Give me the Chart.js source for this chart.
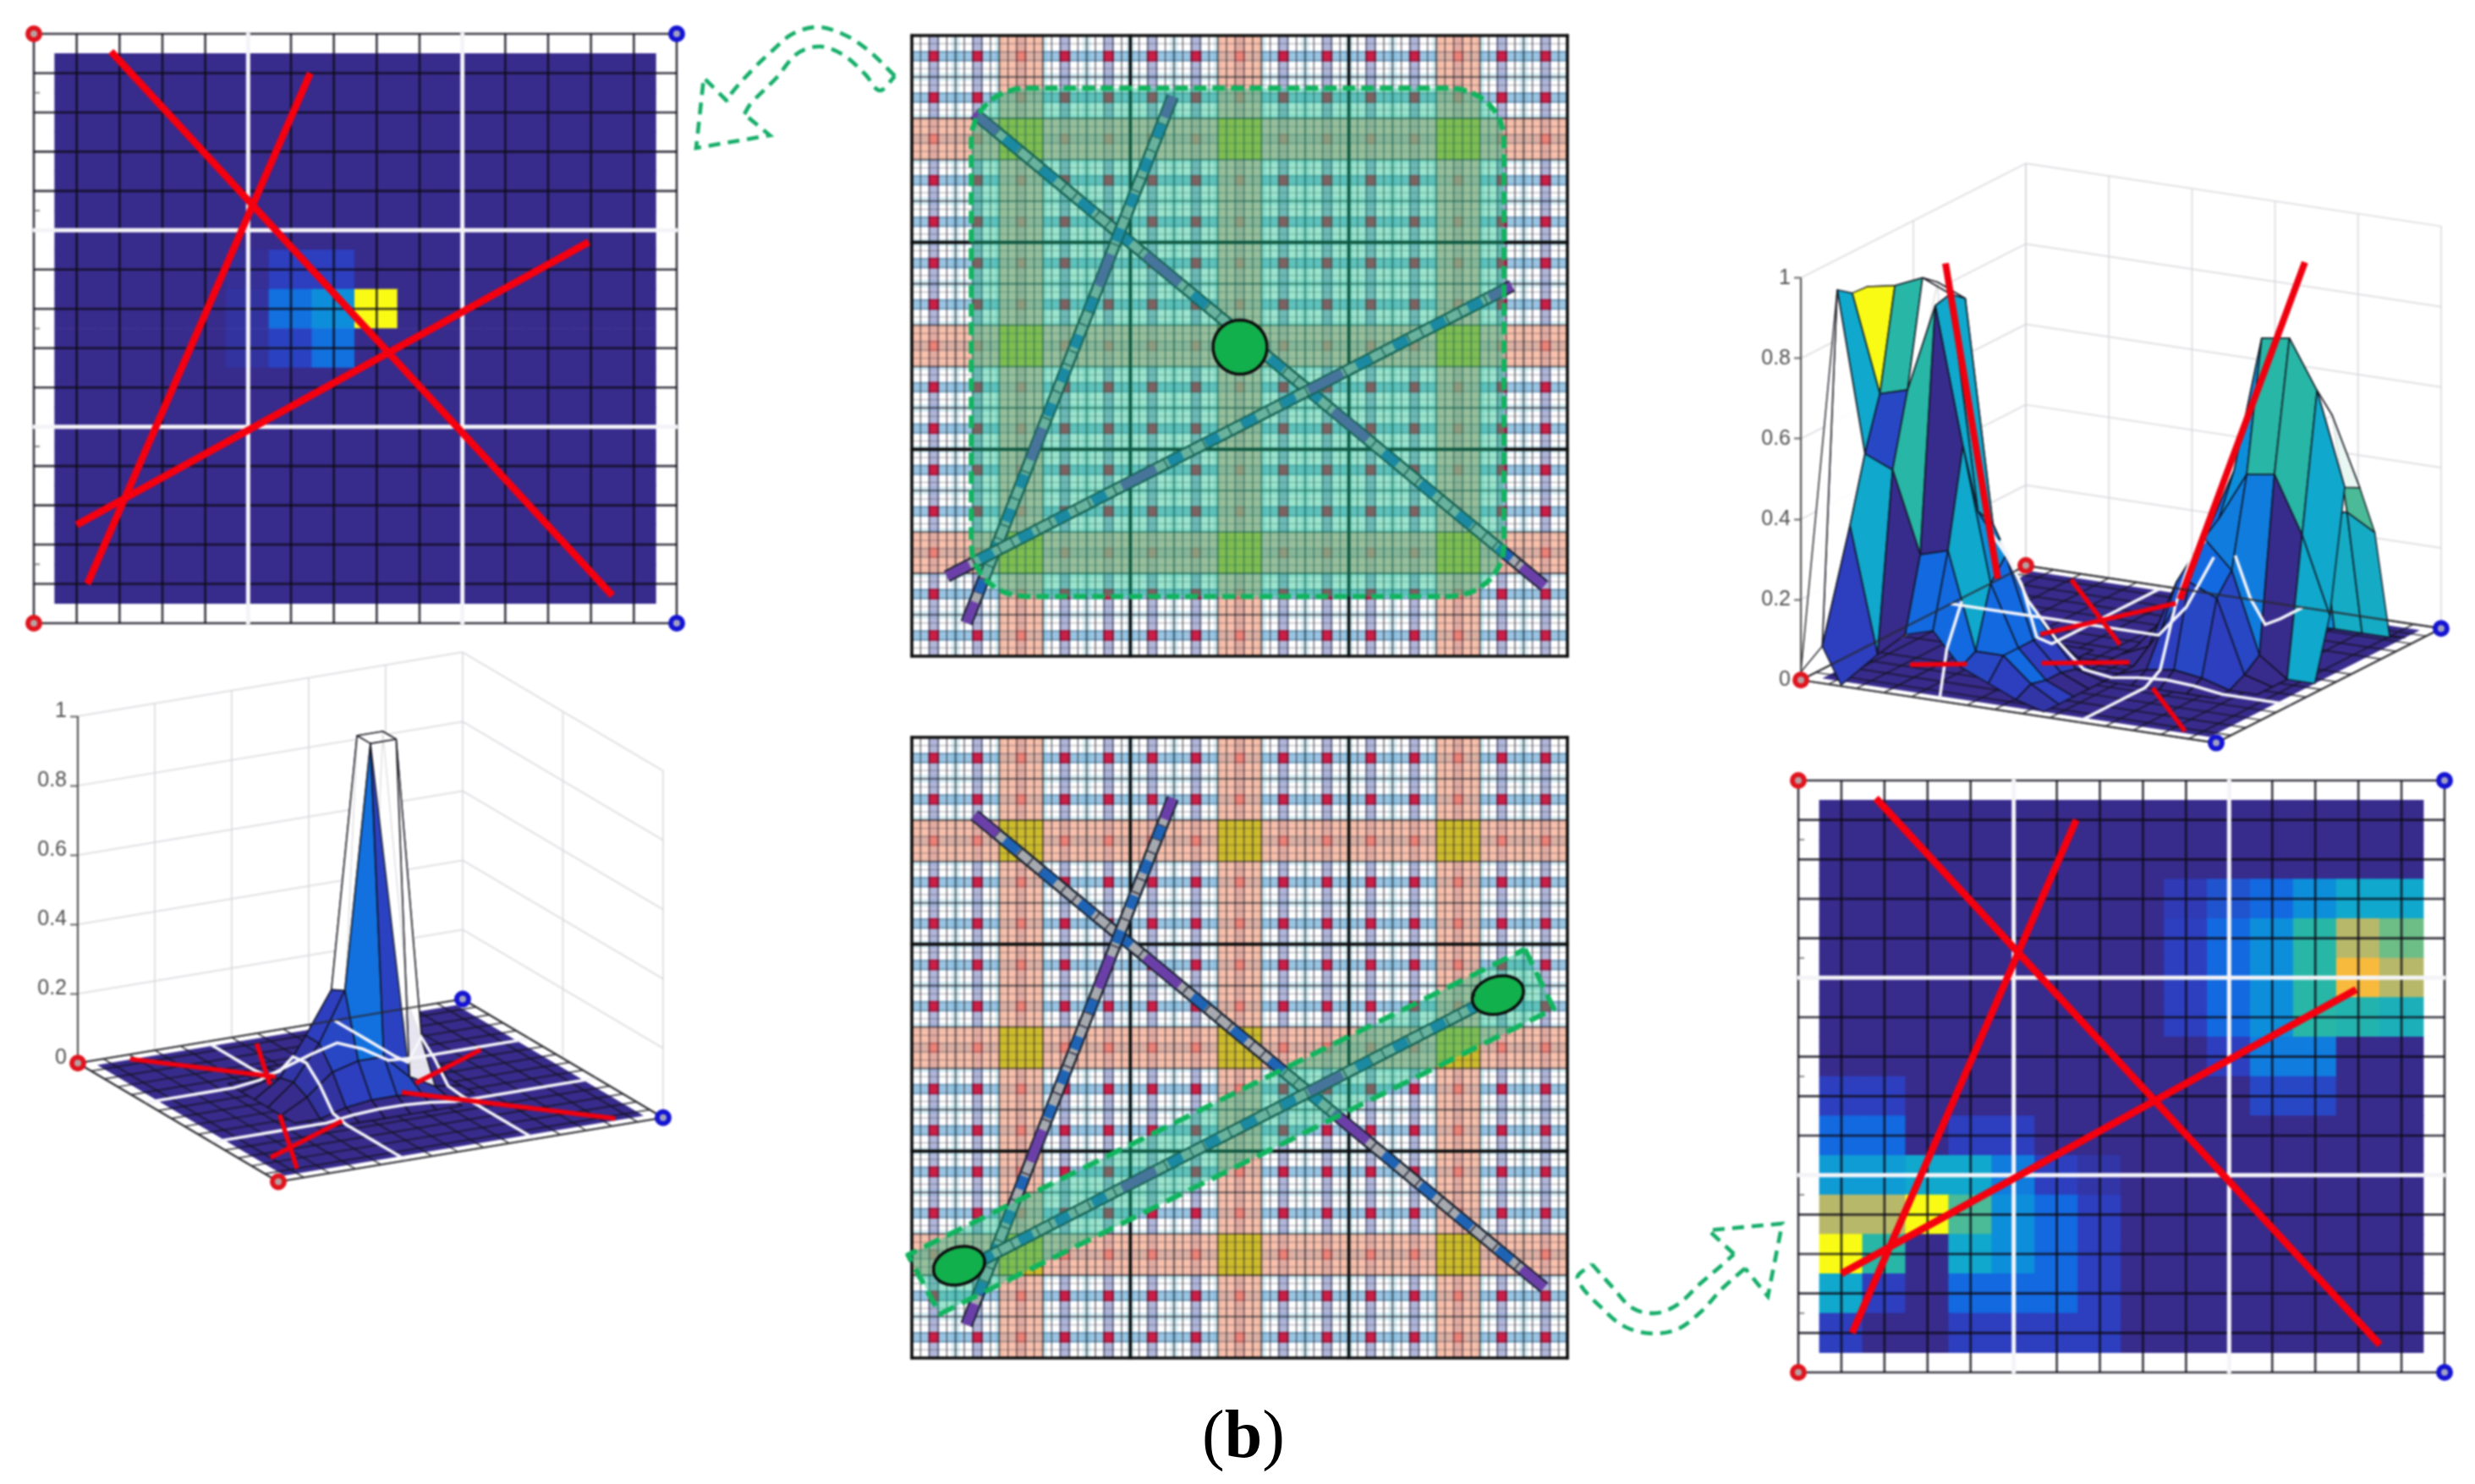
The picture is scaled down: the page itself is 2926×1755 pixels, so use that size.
<!DOCTYPE html>
<html><head><meta charset="utf-8">
<script src="https://cdn.jsdelivr.net/npm/chart.js@4"></script>
<style>
html,body{margin:0;padding:0;background:#fff;width:2926px;height:1755px;overflow:hidden}
canvas{position:absolute;filter:blur(1.1px)}
#cap{position:absolute;left:1350px;top:1656px;width:240px;text-align:center;font:80px/80px "Liberation Serif",serif;color:#000}
</style></head><body>
<div id="cap">(<b>b</b>)</div>
<script>
// ---------- data ----------
const gridUnits=[0,1,2,3,4,5,6,7,8,9,10,11,12,13,14,15];
const whiteUnits=[5,10];
const sideTicks=[1.5,4.5,7.5,10.5,13.5];
const zTicks=[0,0.2,0.4,0.6,0.8,1];
const bandCenters=[2.5,7.5,12.5];
const stripeCenters=[0.5,1.5,2.5,3.5,4.5,5.5,6.5,7.5,8.5,9.5,10.5,11.5,12.5,13.5,14.5];
const subLines=[0.2,0.4,0.6,0.8];
const redLines=[[1.8,0.45,13.5,14.3],[6.45,1,1.25,14],[12.95,5.3,1,12.5]];
const rods=[[1.43,1.88,14.47,13.3],[5.97,1.47,1.25,14.2],[13.73,6.05,0.8,13.07]];
const rodSolid=[[0,0.04],[0.3,0.36],[0.63,0.69],[0.96,1]];
const rodDots=[0.065,0.13,0.197,0.263,0.395,0.465,0.53,0.595,0.73,0.795,0.86,0.93];
const heatTL=[
[0,0,0,0,0,0,0,0,0,0,0,0,0,0],[0,0,0,0,0,0,0,0,0,0,0,0,0,0],[0,0,0,0,0,0,0,0,0,0,0,0,0,0],
[0,0,0,0,0,0,0,0,0,0,0,0,0,0],[0,0,0,0,0,0,0,0,0,0,0,0,0,0],
[0,0,0,0,0.02,0.1,0.1,0,0,0,0,0,0,0],
[0,0,0,0,0.04,0.22,0.3,1,0,0,0,0,0,0],
[0,0,0,0,0.04,0.11,0.22,0,0,0,0,0,0,0],
[0,0,0,0,0,0,0,0,0,0,0,0,0,0],[0,0,0,0,0,0,0,0,0,0,0,0,0,0],[0,0,0,0,0,0,0,0,0,0,0,0,0,0],
[0,0,0,0,0,0,0,0,0,0,0,0,0,0],[0,0,0,0,0,0,0,0,0,0,0,0,0,0],[0,0,0,0,0,0,0,0,0,0,0,0,0,0]];
const heatBR=[
[0,0,0,0,0,0,0,0,0,0,0,0,0,0],[0,0,0,0,0,0,0,0,0,0,0,0,0,0],
[0,0,0,0,0,0,0,0,0.08,0.15,0.2,0.3,0.4,0.4],
[0,0,0,0,0,0,0,0,0.1,0.2,0.3,0.5,0.7,0.6],
[0,0,0,0,0,0,0,0,0.1,0.2,0.3,0.5,0.85,0.7],
[0,0,0,0,0,0,0,0,0.1,0.2,0.3,0.5,0.48,0.45],
[0,0,0,0,0,0,0,0,0,0.1,0.25,0.25,0,0],
[0.1,0.1,0,0,0,0,0,0,0,0,0.12,0.12,0,0],
[0.2,0.2,0,0.1,0.1,0,0,0,0,0,0,0,0,0],
[0.35,0.35,0.4,0.4,0.25,0.1,0.05,0,0,0,0,0,0,0],
[0.7,0.7,1,0.55,0.3,0.2,0.1,0,0,0,0,0,0,0],
[1,0.5,0,0.4,0.3,0.2,0.1,0,0,0,0,0,0,0],
[0.4,0.1,0,0.2,0.2,0.2,0.1,0,0,0,0,0,0,0],
[0.1,0,0,0.1,0.1,0.1,0.1,0,0,0,0,0,0,0]];
const surfaceA=[
[0,0,0,0,0,0,0,0,0,0,0,0,0,0,0],[0,0,0,0,0,0,0,0,0,0,0,0,0,0,0],[0,0,0,0,0,0,0,0,0,0,0,0,0,0,0],
[0,0,0,0,0,0,0,0,0,0,0,0,0,0,0],
[0,0,0,0,0,0.01,0.02,0.02,0,0,0,0,0,0,0],
[0,0,0,0,0.02,0.06,0.1,0.14,0.1,0.01,0,0,0,0,0],
[0,0,0,0,0.05,0.16,0.28,1,1,0.2,0,0,0,0,0],
[0,0,0,0,0.06,0.16,0.3,1,1,0.12,0,0,0,0,0],
[0,0,0,0,0.04,0.1,0.12,0.12,0.05,0.01,0,0,0,0,0],
[0,0,0,0,0,0.02,0.03,0.03,0.02,0,0,0,0,0,0],
[0,0,0,0,0,0,0,0,0,0,0,0,0,0,0],[0,0,0,0,0,0,0,0,0,0,0,0,0,0,0],[0,0,0,0,0,0,0,0,0,0,0,0,0,0,0],
[0,0,0,0,0,0,0,0,0,0,0,0,0,0,0],[0,0,0,0,0,0,0,0,0,0,0,0,0,0,0]];
const faceA=[
[0,0,0,0,0,0,0,0,0,0,0,0,0,0],[0,0,0,0,0,0,0,0,0,0,0,0,0,0],[0,0,0,0,0,0,0,0,0,0,0,0,0,0],[0,0,0,0,0,0,0,0,0,0,0,0,0,0],
[0,0,0,0,0,0.02,0.02,0,0,0,0,0,0,0],
[0,0,0,0,0.02,0.08,-1,-1,-1,0,0,0,0,0],
[0,0,0,0,0.05,0.1,-1,-1,-1,0,0,0,0,0],
[0,0,0,0,0.05,0.12,0.22,-1,-1,0,0,0,0,0],
[0,0,0,0,0.04,0.1,0.12,0.12,0.05,0,0,0,0,0],
[0,0,0,0,0,0,0,0,0,0,0,0,0,0],[0,0,0,0,0,0,0,0,0,0,0,0,0,0],[0,0,0,0,0,0,0,0,0,0,0,0,0,0],[0,0,0,0,0,0,0,0,0,0,0,0,0,0],[0,0,0,0,0,0,0,0,0,0,0,0,0,0]];
const extraA=[{c:0.11,p:[[7.5,7.5,1],[8.5,8.5,0.05],[7.5,8.5,0.12]]}];
const surfaceB=[
[0,0,0,0,0,0,0,0,0,0,0,0,0,0,0],[0,0,0,0,0,0,0,0,0,0,0,0,0,0,0],
[0,0,0,0,0,0,0,0,0,0,0.01,0.02,0.02,0.02,0.02],
[0,0,0,0,0,0,0,0,0.02,0.06,0.12,0.2,0.33,0.34,0.3],
[0,0,0,0,0,0,0,0,0.06,0.15,0.28,0.4,0.55,0.6,0.43],
[0,0,0,0,0,0,0,0,0.1,0.28,0.45,0.79,0.8,0.68,0.45],
[0,0,0,0,0,0,0,0,0.08,0.23,0.35,0.47,0.48,0.34,0.15],
[0.03,0.03,0.01,0,0,0,0,0,0.03,0.2,0.32,0.25,0.05,0,0],
[0.12,0.12,0.06,0.04,0.05,0.02,0,0,0,0.1,0.23,0.2,0.02,0,0],
[0.25,0.3,0.35,0.3,0.25,0.12,0.05,0,0,0.02,0.03,0.02,0,0,0],
[0.55,0.6,0.93,0.9,0.35,0.2,0.1,0.02,0,0,0,0,0,0,0],
[0.917,0.93,0.96,0.93,0.4,0.3,0.1,0.03,0,0,0,0,0,0,0],
[0.92,0.68,0.7,0.92,0.58,0.25,0.1,0.03,0,0,0,0,0,0,0],
[0.947,0.55,0.52,0.32,0.34,0.1,0.1,0.04,0,0,0,0,0,0,0],
[0.08,0.39,0.08,0.14,0.16,0.08,0.05,0.02,0,0,0,0,0,0,0]];
const faceB=[
[0,0,0,0,0,0,0,0,0,0,0,0,0,0],[0,0,0,0,0,0,0,0,0,0,0,0,0,0],
[0,0,0,0,0,0,0,0,0.08,0.15,0.2,0.3,0.42,0.42],
[0,0,0,0,0,0,0,0,0.1,0.2,0.3,-1,-1,0.55],
[0,0,0,0,0,0,0,0,0.1,0.2,0.3,-1,-1,-1],
[0,0,0,0,0,0,0,0,0.1,0.2,0.3,0.5,0.5,0.4],
[0,0,0,0,0,0,0,0,0.08,0.2,0.25,0.25,0,0.4],
[0.1,0.1,0,0,0,0,0,0,0.05,0.15,0.2,0.12,0,0],
[0.2,0.2,0,0.1,0.1,0,0,0,0,0.1,0.12,0.1,0,0],
[0.35,-1,-1,0.4,0.25,0.1,0.05,0,0,0,0,0,0,0],
[-1,-1,-1,0.4,0.3,0.2,0.1,0,0,0,0,0,0,0],
[1,0.5,-1,0.4,0.3,0.2,0.1,0,0,0,0,0,0,0],
[0.4,0.12,0.5,0,0.4,0.2,0.2,0.1,0,0,0,0,0,0],
[-1,0.4,0,0.2,0.2,0.12,0.1,0.05,0,0,0,0,0,0]];
const extraB=[{c:-1,p:[[0.5,13.5,0.947],[0,15,0.02],[0.5,14.5,0.08]]},{c:0.1,p:[[0.5,14.5,0.08],[1.5,14.5,0.39],[2.5,14.5,0.08],[1.4,14.9,0]]}];
const visibleA=[[[0,0.3],[0.56,1]],[[0,0.33],[0.57,1]],[[0,0.31],[0.66,1]]];
const visibleB=[[[0.02,0.44],[0.72,1]],[[0.04,0.44]],[[0.4,0.6],[0.77,0.9]]];
const risersB=[[1.03,7.26,0.9,-0.06,1.76,0],[12.95,5.3,0.99,6.14,1.05,0]];
const arrowTop=[[[1058,90],[1027,60],[1000,42],[967,32],[937,40],[913,60],[890,82],[865,110],[860,120]],
 [[860,120],[832,92],[823,175],[910,160],[880,135]],
 [[880,135],[888,122],[917,93],[943,63],[970,55],[997,65],[1023,88],[1040,107],[1058,90]]];
const arrowBottom=[[[1882,1495],[1907,1523],[1930,1547],[1957,1553],[1983,1543],[2010,1518],[2037,1495],[2050,1483]],
 [[2050,1483],[2020,1455],[2107,1447],[2090,1533],[2063,1500]],
 [[2063,1500],[2037,1523],[2010,1552],[1983,1572],[1953,1577],[1923,1570],[1900,1553],[1865,1512],[1882,1495]]];

// ---------- helpers ----------
const navy='#372b8c';
const stops=[[0,[55,43,140]],[0.1,[45,62,190]],[0.2,[19,105,224]],[0.3,[13,142,219]],[0.4,[16,168,204]],[0.5,[40,182,166]],[0.6,[109,189,134]],[0.7,[183,184,106]],[0.85,[248,186,61]],[1,[249,251,21]]];
function parula(v){if(v<0)return 'rgba(255,255,255,.88)';for(let i=1;i<stops.length;i++){if(v<=stops[i][0]){const a=stops[i-1],b=stops[i],t=(v-a[0])/(b[0]-a[0]);
 const c=a[1].map((q,k)=>Math.round(q+(b[1][k]-q)*t));return `rgb(${c[0]},${c[1]},${c[2]})`;}}return 'rgb(249,251,21)';}
const pts=a=>a.map(p=>({x:p[0],y:p[1]}));
function L(a,color,width,extra){return Object.assign({type:'line',data:pts(a),borderColor:color,borderWidth:width,pointRadius:0,fill:false,tension:0,clip:false,borderCapStyle:'butt'},extra||{});}
function poly(a,fill,stroke,width,extra){const c=a.concat([a[0]]);return L(c,stroke,width,Object.assign({fill:'shape',backgroundColor:fill,borderJoinStyle:'round'},extra||{}));}
function chart(box,scales,ds){
 const c=document.createElement('canvas');c.width=box.w;c.height=box.h;c.style.left=box.x+'px';c.style.top=box.y+'px';c.style.width=box.w+'px';c.style.height=box.h+'px';
 document.body.appendChild(c);
 return new Chart(c,{type:'line',data:{datasets:ds.slice().reverse()},options:{responsive:false,animation:false,devicePixelRatio:1,events:[],
  layout:{padding:0,autoPadding:false},plugins:{legend:{display:false},tooltip:{enabled:false},title:{display:false}},scales}});
}
function frameScales(f,m){const ux=(f.x1-f.x0)/15,uy=(f.y1-f.y0)/15;
 const w=Math.round(f.x1-f.x0+2*m),h=Math.round(f.y1-f.y0+2*m);
 return {box:{x:f.x0-m,y:f.y0-m,w,h},ux,uy,scales:{
  x:{type:'linear',display:false,bounds:'data',min:-m/ux,max:15+m/ux,offset:false},
  y:{type:'linear',display:false,bounds:'data',min:-m/uy,max:15+m/uy,reverse:true,offset:false}}};}
function corners(a,b,c,d,conv){
 return [{type:'line',showLine:false,data:[a,b].map(conv),pointRadius:7,pointBorderWidth:6,pointBorderColor:'#e0141e',pointBackgroundColor:'#b9a0a0',clip:false},
 {type:'line',showLine:false,data:[c,d].map(conv),pointRadius:7,pointBorderWidth:6,pointBorderColor:'#1414d2',pointBackgroundColor:'#a0a0c4',clip:false}];
}
// ---------- heat panels ----------
function heatPanel(f,heat,m){
 const s=frameScales(f,m),ds=[],cells=[],cols=[];
 heat.forEach((row,R)=>row.forEach((v,c)=>{cells.push({x:c+1,y:[R+0.5,R+1.5]});cols.push(parula(v));}));
 ds.push({type:'bar',data:cells,backgroundColor:cols,borderWidth:0,barThickness:Math.ceil(s.ux)+1,clip:false});
 gridUnits.filter(k=>!whiteUnits.includes(k)).forEach(k=>{
  ds.push(L([[k,0],[k,15]],'rgba(15,12,25,.82)',2.6));ds.push(L([[0,k],[15,k]],'rgba(15,12,25,.82)',2.6));});
 whiteUnits.forEach(k=>{ds.push(L([[k,-0.02],[k,15.02]],'#f4f4f8',5));ds.push(L([[-0.02,k],[15.02,k]],'#f4f4f8',5));});
 sideTicks.forEach(k=>ds.push(L([[0,k],[0.14,k]],'rgba(90,90,90,.7)',2)));
 redLines.forEach(l=>ds.push(L([[l[0],l[1]],[l[2],l[3]]],'#f5000f',8.5)));
 ds.push(...corners([0,0],[0,15],[15,0],[15,15],p=>({x:p[0],y:p[1]})));
 chart(s.box,s.scales,ds);
}
heatPanel({x0:40,x1:800,y0:40,y1:737},heatTL,34);
heatPanel({x0:2126,x1:2890,y0:923,y1:1623},heatBR,30);

// ---------- plaid panels ----------
function ellipse(cx,cy,rx,ry,rot,ux,uy){const a=[];for(let i=0;i<48;i++){const t=i/48*2*Math.PI,x=rx*Math.cos(t),y=ry*Math.sin(t);
 a.push([cx+(x*Math.cos(rot)-y*Math.sin(rot))/ux,cy+(x*Math.sin(rot)+y*Math.cos(rot))/uy]);}return a;}
function roundRect(x0,y0,x1,y1,r){const a=[],arc=(cx,cy,s)=>{for(let i=0;i<=8;i++){const t=(s+i/8)*Math.PI/2;a.push([cx+r*Math.cos(t),cy+r*Math.sin(t)]);}};
 arc(x1-r,y1-r,0);arc(x0+r,y1-r,1);arc(x0+r,y0+r,2);arc(x1-r,y0+r,3);return a;}
function plaid(f,overlay){
 const s=frameScales(f,40),ux=s.ux,uy=s.uy,ds=[];
 for(let k=1;k<15;k++){ds.push(L([[k,0],[k,15]],'rgba(125,195,215,.32)',9));ds.push(L([[0,k],[15,k]],'rgba(125,195,215,.32)',9));}
 stripeCenters.forEach(k=>{ds.push(L([[k,0],[k,15]],'rgba(105,115,180,.52)',13));ds.push(L([[0,k],[15,k]],'rgba(80,155,205,.58)',13));});
 const dots=[];stripeCenters.forEach(a=>stripeCenters.forEach(b=>dots.push({x:a,y:b})));
 ds.push({type:'line',showLine:false,data:dots,pointStyle:'rect',pointRadius:9,pointBorderWidth:0,pointBackgroundColor:'#cc1f47',clip:false});
 bandCenters.forEach(k=>{ds.push(L([[k,0],[k,15]],'rgba(247,168,138,.72)',ux));ds.push(L([[0,k],[15,k]],'rgba(247,168,138,.72)',uy));});
 bandCenters.forEach(a=>bandCenters.forEach(b=>ds.push(L([[a-0.5,b],[a+0.5,b]],'#cdbb2c',uy))));
 for(let k=0;k<15;k++)subLines.forEach(d=>{ds.push(L([[k+d,0],[k+d,15]],'rgba(20,20,40,.38)',1));ds.push(L([[0,k+d],[15,k+d]],'rgba(20,20,40,.38)',1));});
 gridUnits.forEach(k=>{ds.push(L([[k,0],[k,15]],'rgba(15,15,25,.72)',1.6));ds.push(L([[0,k],[15,k]],'rgba(15,15,25,.72)',1.6));});
 [0,5,10,15].forEach(k=>{ds.push(L([[k,-0.03],[k,15.03]],'#0a0a0a',3.6));ds.push(L([[-0.03,k],[15.03,k]],'#0a0a0a',3.6));});
 rods.forEach(r=>{
  const at=t=>[r[0]+(r[2]-r[0])*t,r[1]+(r[3]-r[1])*t],end=[at(0),at(1)];
  ds.push(L(end,'#161f2c',15));ds.push(L(end,'rgba(255,255,255,.62)',10));
  ds.push(L(end,'rgba(30,30,50,.75)',10,{borderDash:[2,15]}));
  rodSolid.forEach(q=>ds.push(L([at(q[0]),at(q[1])],'#6b3fa8',11)));
  rodDots.forEach(t=>ds.push(L([at(t-0.012),at(t+0.012)],'#1f63b4',11)));
 });
 overlay(ds,ux,uy);
 chart(s.box,s.scales,ds);
}
const green='#10b45e';
plaid({x0:1078,x1:1853,y0:42,y1:776},(ds,ux,uy)=>{
 ds.push(poly(roundRect(1.36,1.27,13.55,13.56,1.25),'rgba(20,190,135,.42)',green,6,{borderDash:[15,7]}));
 ds.push(poly(ellipse(7.51,7.53,32,32,0,ux,uy),'#12b04c','#0a0a0a',3.5));
});
plaid({x0:1078,x1:1853,y0:872,y1:1606},(ds,ux,uy)=>{
 ds.push(poly([[14.03,5.12],[14.69,6.56],[0.64,13.94],[-0.09,12.51]],'rgba(20,190,135,.42)',green,6,{borderDash:[20,10]}));
 ds.push(poly(ellipse(13.41,6.23,31,22,-0.3,ux,uy),'#12b04c','#0a0a0a',3.5));
 ds.push(poly(ellipse(1.08,12.77,31,22,-0.3,ux,uy),'#12b04c','#0a0a0a',3.5));
});

// ---------- 3D panels ----------
function sampleH(H,u,v){const cl=(q)=>Math.max(0,Math.min(14,q));const a=cl(u-0.5),b=cl(v-0.5);const i=Math.min(13,Math.floor(a)),j=Math.min(13,Math.floor(b)),s=a-i,t=b-j;
 return (H[j][i]*(1-s)+H[j][i+1]*s)*(1-t)+(H[j+1][i]*(1-s)+H[j+1][i+1]*s)*t;}
function surface3D(o){
 const P=o.P,ds=[],p3=(u,v,z)=>{const q=P(u,v,z);return [q.x,q.y];};
 const wall='rgba(215,215,220,.75)';
 o.wallA.forEach(k=>ds.push(L([p3(...o.wA(k),0),p3(...o.wA(k),1)],wall,2)));
 o.wallB.forEach(k=>ds.push(L([p3(...o.wB(k),0),p3(...o.wB(k),1)],wall,2)));
 zTicks.slice(1).forEach(z=>{ds.push(L([p3(...o.wA(0),z),p3(...o.wA(15),z)],wall,2));ds.push(L([p3(...o.wB(0),z),p3(...o.wB(15),z)],wall,2));});
 ds.push(poly([p3(0.5,0.5,0),p3(14.5,0.5,0),p3(14.5,14.5,0),p3(0.5,14.5,0)],navy,navy,0));
 gridUnits.filter(k=>!whiteUnits.includes(k)).forEach(k=>{ds.push(L([p3(k,0,0),p3(k,15,0)],'rgba(20,20,30,.8)',1.7));ds.push(L([p3(0,k,0),p3(15,k,0)],'rgba(20,20,30,.8)',1.7));});
 const cells=[];for(let j=0;j<14;j++)for(let i=0;i<14;i++){const h=[o.H[j][i],o.H[j][i+1],o.H[j+1][i+1],o.H[j+1][i]];if(Math.max(...h)>0.004)cells.push({i,j,h});}
 cells.sort((a,b)=>o.depth(a.i,a.j)-o.depth(b.i,b.j));
 cells.forEach(c=>{const u0=c.i+0.5,u1=u0+1,v0=c.j+0.5,v1=v0+1;
  const a=[p3(u0,v0,c.h[0]),p3(u1,v0,c.h[1]),p3(u1,v1,c.h[2]),p3(u0,v1,c.h[3])];
  ds.push(poly(a,parula(o.face[c.j][c.i]),'rgba(15,15,25,.85)',1.6));});
 (o.extra||[]).forEach(e=>ds.push(poly(e.p.map(q=>p3(...q)),parula(e.c),'rgba(15,15,25,.85)',1.6)));
 const lim=o.drapeLimit;
 whiteUnits.forEach(k=>{const la=[p3(k,0,0)],lb=[p3(0,k,0)];
  for(let q=0.5;q<=14.5;q+=1){const ha=sampleH(o.H,k,q),hb=sampleH(o.H,q,k);
   la.push(ha>lim?[NaN,NaN]:p3(k,q,ha));lb.push(hb>lim?[NaN,NaN]:p3(q,k,hb));}
  la.push(p3(k,15,0));lb.push(p3(15,k,0));
  ds.push(L(la,'#f5f5fa',3.6));ds.push(L(lb,'#f5f5fa',3.6));});
 o.visible.forEach((segs,n)=>segs.forEach(g=>{const l=redLines[n],at=t=>[l[0]+(l[2]-l[0])*t,l[1]+(l[3]-l[1])*t];
  ds.push(L([p3(...at(g[0]),0),p3(...at(g[1]),0)],'#f0000f',5.5));}));
 (o.risers||[]).forEach(r=>ds.push(L([p3(r[0],r[1],r[2]),p3(r[3],r[4],r[5])],'#f0000f',8)));
 ds.push(poly([p3(0,0,0),p3(15,0,0),p3(15,15,0),p3(0,15,0)],'rgba(0,0,0,0)','rgba(40,40,45,.85)',2.2));
 ds.push(L([p3(...o.axisFoot,0),p3(...o.axisFoot,1)],'#555',2.2));
 ds.push(...corners(o.red[0],o.red[1],o.blue[0],o.blue[1],p=>P(p[0],p[1],0)));
 const b=o.box,zp=o.zeroPx,zs=o.zScale;
 chart(b,{
  x:{type:'linear',display:false,bounds:'data',min:0,max:b.x+b.w-o.axisPx,offset:false},
  y:{type:'linear',position:'left',bounds:'data',min:(zp-(b.y+b.h))/zs,max:(zp-b.y)/zs,offset:false,
     afterFit:s=>{s.width=o.axisPx-b.x;},
     afterBuildTicks:s=>{s.ticks=zTicks.map(value=>({value}));},
     border:{display:false},
     grid:{drawOnChartArea:false,drawTicks:true,tickLength:9,tickColor:'#666',tickWidth:2},
     ticks:{autoSkip:false,padding:o.pad,labelOffset:o.labelOffset,color:'#505050',font:{family:'"Liberation Sans",Arial,sans-serif',size:25},
            callback:v=>String(+(+v).toFixed(1))}}
 },ds);
}
surface3D({H:surfaceA,face:faceA,extra:extraA,visible:visibleA,drapeLimit:0.25,
 P:(u,v,z)=>({x:u*30.33+v*15.8,y:z-(u*-5.33+v*9.87)/433}),
 wA:k=>[k,0],wB:k=>[15,k],wallA:[0,3,6,9,12,15],wallB:[7.5,15],
 depth:(i,j)=>j-i,red:[[0,0],[0,15]],blue:[[15,0],[15,15]],axisFoot:[0,0],
 box:{x:10,y:740,w:840,h:720},axisPx:92,zeroPx:1266,zScale:433,labelOffset:-6,pad:4});
surface3D({H:surfaceB,face:faceB,extra:extraB,visible:visibleB,risers:risersB,drapeLimit:0.35,
 P:(u,v,z)=>({x:265+u*32.73+v*-17.73,y:z-(u*5.2+(v-15)*9.47)/499}),
 wA:k=>[0,15-k],wB:k=>[k,0],wallA:[0,7.5,15],wallB:[0,3,6,9,12,15],
 depth:(i,j)=>i+j,red:[[0,15],[0,0]],blue:[[15,0],[15,15]],axisFoot:[0,15],
 box:{x:2040,y:120,w:886,h:810},axisPx:2130,zeroPx:818,zScale:499,labelOffset:0,pad:4});

// ---------- arrows ----------
(function(){
 const ds=[];
 [arrowTop,arrowBottom].forEach(a=>a.forEach((seg,i)=>ds.push(L(seg,'#14ad68',4.6,{borderDash:[14,9],tension:i===1?0:0.35}))));
 chart({x:0,y:0,w:2926,h:1755},{x:{type:'linear',display:false,min:0,max:2926,bounds:'data'},y:{type:'linear',display:false,min:0,max:1755,reverse:true,bounds:'data'}},ds);
})();
</script>
</body></html>
